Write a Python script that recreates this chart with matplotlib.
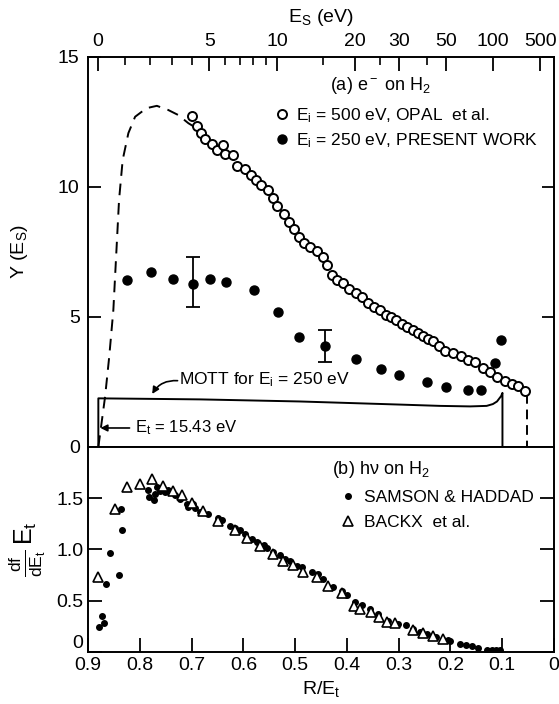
import numpy as np
import matplotlib
matplotlib.use('Agg')
import matplotlib.pyplot as plt

plt.rcParams['font.family'] = ['Liberation Sans', 'DejaVu Sans']
plt.rcParams['mathtext.fontset'] = 'custom'
plt.rcParams['mathtext.rm'] = 'Liberation Sans'
plt.rcParams['mathtext.it'] = 'Liberation Sans'
plt.rcParams['mathtext.sf'] = 'Liberation Sans'

# (a) e- on H2, open circles: Ei = 500 eV, Opal et al.
opal_r = [0.699, 0.690, 0.682, 0.674, 0.660, 0.650, 0.639, 0.636, 0.619, 0.612,
          0.596, 0.585, 0.576, 0.565, 0.553, 0.543, 0.534, 0.522, 0.512, 0.503,
          0.493, 0.483, 0.471, 0.458, 0.446, 0.438, 0.429, 0.419, 0.408, 0.396,
          0.382, 0.371, 0.359, 0.348, 0.336, 0.324, 0.315, 0.305, 0.294, 0.284,
          0.272, 0.263, 0.253, 0.243, 0.234, 0.222, 0.211, 0.195, 0.180, 0.166,
          0.153, 0.137, 0.124, 0.110, 0.095, 0.081, 0.070, 0.056]
opal_y = [12.71, 12.33, 12.07, 11.83, 11.65, 11.42, 11.62, 11.26, 11.22, 10.82,
          10.68, 10.46, 10.25, 10.08, 9.88, 9.58, 9.27, 8.95, 8.67, 8.37,
          8.08, 7.86, 7.70, 7.55, 7.30, 7.00, 6.62, 6.42, 6.30, 6.07,
          5.93, 5.76, 5.53, 5.40, 5.27, 5.08, 5.01, 4.88, 4.73, 4.63,
          4.50, 4.38, 4.25, 4.15, 4.08, 3.88, 3.71, 3.63, 3.48, 3.35,
          3.25, 3.04, 2.87, 2.69, 2.52, 2.42, 2.33, 2.17]

# dashed extrapolation of the Opal data
dash_r = [0.880, 0.867, 0.859, 0.851, 0.845, 0.840, 0.833, 0.822, 0.809, 0.787,
          0.767, 0.745, 0.726, 0.706, 0.691]
dash_y = [0.0, 1.93, 3.47, 5.27, 7.58, 9.50, 11.04, 12.07, 12.70, 13.03,
          13.12, 12.96, 12.77, 12.45, 12.27]
dash_end_r = [0.0525, 0.0525]
dash_end_y = [2.05, 0.0]

# filled circles: Ei = 250 eV, present work
pw_r = [0.825, 0.778, 0.736, 0.697, 0.664, 0.634, 0.579, 0.533, 0.493, 0.442,
        0.383, 0.334, 0.299, 0.245, 0.209, 0.167, 0.140, 0.114, 0.102]
pw_y = [6.42, 6.74, 6.45, 6.27, 6.46, 6.36, 6.04, 5.20, 4.22, 3.88,
        3.38, 3.01, 2.76, 2.50, 2.30, 2.19, 2.18, 3.22, 4.12]
err_r = [0.697, 0.442]
err_y = [6.35, 3.89]
err_dy = [0.95, 0.61]

# Mott curve for Ei = 250 eV
mott_r = [0.880, 0.880, 0.780, 0.684, 0.587, 0.491, 0.394, 0.297, 0.220, 0.162,
          0.130, 0.118, 0.110, 0.102, 0.0995, 0.0995]
mott_y = [0.0, 1.87, 1.85, 1.83, 1.79, 1.75, 1.69, 1.63, 1.58, 1.56,
          1.58, 1.65, 1.75, 1.96, 2.08, 0.0]

# (b) hv on H2: Samson & Haddad (dots), Backx et al. (triangles)
sh_r = [0.879, 0.870, 0.872, 0.865, 0.858, 0.840, 0.835, 0.837, 0.784, 0.782,
        0.773, 0.771, 0.767, 0.761, 0.751, 0.745, 0.732, 0.722, 0.709, 0.706,
        0.697, 0.693, 0.684, 0.668, 0.648, 0.642, 0.626, 0.616, 0.606, 0.597,
        0.584, 0.574, 0.561, 0.555, 0.542, 0.529, 0.520, 0.510, 0.497, 0.487,
        0.468, 0.455, 0.446, 0.426, 0.410, 0.400, 0.384, 0.371, 0.355, 0.339,
        0.320, 0.301, 0.286, 0.272, 0.259, 0.246, 0.227, 0.214, 0.204, 0.201,
        0.182, 0.169, 0.159, 0.146, 0.130, 0.120, 0.111, 0.104]
sh_y = [0.24, 0.28, 0.35, 0.66, 0.96, 0.75, 1.19, 1.39, 1.58, 1.51,
        1.48, 1.54, 1.61, 1.57, 1.56, 1.58, 1.53, 1.49, 1.44, 1.41,
        1.44, 1.40, 1.36, 1.35, 1.31, 1.29, 1.23, 1.21, 1.19, 1.15,
        1.10, 1.07, 1.04, 1.01, 0.97, 0.94, 0.91, 0.89, 0.84, 0.83,
        0.78, 0.76, 0.71, 0.63, 0.59, 0.55, 0.49, 0.46, 0.42, 0.37,
        0.30, 0.27, 0.26, 0.22, 0.19, 0.17, 0.14, 0.11, 0.11, 0.10,
        0.08, 0.07, 0.06, 0.04, 0.02, 0.02, 0.02, 0.02]
bx_r = [0.880, 0.848, 0.824, 0.800, 0.776, 0.756, 0.735, 0.719, 0.700, 0.677,
        0.648, 0.616, 0.592, 0.568, 0.543, 0.523, 0.504, 0.484, 0.458, 0.436,
        0.410, 0.386, 0.375, 0.354, 0.337, 0.323, 0.307, 0.272, 0.252, 0.233,
        0.214]
bx_y = [0.73, 1.39, 1.61, 1.64, 1.69, 1.62, 1.57, 1.53, 1.45, 1.37,
        1.28, 1.19, 1.11, 1.03, 0.95, 0.89, 0.85, 0.78, 0.73, 0.64,
        0.57, 0.45, 0.42, 0.39, 0.34, 0.29, 0.28, 0.21, 0.18, 0.15,
        0.12]

# top axis: secondary electron energy Es (eV), R/Et = 13.6 / (Es + 15.43)
es_major = [0, 5, 10, 20, 30, 50, 100, 500]
es_minor = [1, 2, 3, 4, 6, 7, 8, 9, 15, 25, 40]
RYD = 13.6
IP = 15.43

fig = plt.figure(figsize=(5.59, 7.04), dpi=100)
ax1 = fig.add_axes([0.1574, 0.3651, 0.8336, 0.5540])
ax2 = fig.add_axes([0.1574, 0.0743, 0.8336, 0.2908])

for ax in (ax1, ax2):
    ax.set_xlim(0.9, 0.0)
    for s in ax.spines.values():
        s.set_linewidth(1.4)

# ---- panel (a)
ax1.plot(dash_r, dash_y, 'k--', lw=1.4, dashes=(6, 4))
ax1.plot(dash_end_r, dash_end_y, 'k--', lw=1.4, dashes=(5, 3))
ax1.plot(opal_r, opal_y, 'o', mfc='white', mec='black', mew=1.4, ms=6.5,
         ls='none', label='E$_\\mathrm{i}$ = 500 eV, OPAL  et al.')
ax1.plot(pw_r, pw_y, 'o', color='black', ms=6.5, ls='none',
         label='E$_\\mathrm{i}$ = 250 eV, PRESENT WORK')
ax1.errorbar(err_r, err_y, yerr=err_dy, fmt='none', ecolor='black',
             elinewidth=1.3, capsize=5, capthick=1.3)
ax1.plot(mott_r, mott_y, 'k-', lw=1.4)

ax1.set_ylim(0, 15)
ax1.set_yticks([0, 5, 10, 15])
ax1.tick_params(axis='y', which='major', direction='in', length=9, width=1.3,
                left=True, right=True, labelsize=14, pad=6)
ax1.set_ylabel('Y (E$_\\mathrm{S}$)', fontsize=14, labelpad=20)

ax1.xaxis.tick_top()
ax1.xaxis.set_label_position('top')
ax1.set_xticks([RYD / (e + IP) for e in es_major])
ax1.set_xticklabels([str(e) for e in es_major])
ax1.set_xticks([RYD / (e + IP) for e in es_minor], minor=True)
ax1.tick_params(axis='x', which='major', direction='in', length=10, width=1.3,
                labelsize=14, pad=5)
ax1.tick_params(axis='x', which='minor', direction='in', length=6, width=1.2)
ax1.set_xlabel('E$_\\mathrm{S}$ (eV)', fontsize=14, labelpad=8)

leg1 = ax1.legend(loc='upper left', bbox_to_anchor=(0.405, 0.874), frameon=False,
                  fontsize=12.5, handlelength=0.6, handletextpad=0.5,
                  borderpad=0, borderaxespad=0, labelspacing=0.35)
ax1.text(0.627, 0.926, '(a) e$^-$ on H$_2$', transform=ax1.transAxes,
         ha='center', va='center', fontsize=13)

ax1.text(0.724, 2.58, 'MOTT for E$_\\mathrm{i}$ = 250 eV', fontsize=12.5,
         ha='left', va='center')
ax1.annotate('', xy=(0.776, 2.04), xytext=(0.727, 2.55),
             arrowprops=dict(arrowstyle='-|>', color='black', lw=1.2,
                             mutation_scale=10, shrinkA=0, shrinkB=0,
                             connectionstyle='arc3,rad=0.3'))
ax1.annotate('E$_\\mathrm{t}$ = 15.43 eV', xy=(0.876, 0.73),
             xytext=(0.809, 0.73), fontsize=12, ha='left', va='center',
             arrowprops=dict(arrowstyle='-|>', color='black', lw=1.2,
                             mutation_scale=10, shrinkA=2, shrinkB=0))

# ---- panel (b)
ax2.plot(sh_r, sh_y, 'o', color='black', ms=4, ls='none',
         label='SAMSON & HADDAD')
ax2.plot(bx_r, bx_y, '^', mfc='white', mec='black', mew=1.2, ms=7, ls='none',
         label='BACKX  et al.')
ax2.set_ylim(0, 2.0)
ax2.set_yticks([0, 0.5, 1.0, 1.5])
ax2.set_yticklabels(['0', '0.5', '1.0', '1.5'])
ax2.get_yticklabels()[0].set_verticalalignment('bottom')
ax2.set_xticks([0.9, 0.8, 0.7, 0.6, 0.5, 0.4, 0.3, 0.2, 0.1, 0.0])
ax2.set_xticklabels(['0.9', '0.8', '0.7', '0.6', '0.5', '0.4', '0.3', '0.2', '0.1', '0'])
ax2.tick_params(axis='both', which='major', direction='in', length=10, width=1.3,
                left=True, right=True, labelsize=14)
ax2.set_xlabel('R/E$_\\mathrm{t}$', fontsize=14, labelpad=4)
ax2.set_ylabel('$\\frac{\\mathrm{df}}{\\mathrm{dE_t}}\\,\\mathrm{E_t}$', fontsize=18,
               rotation=90, labelpad=6)

leg2 = ax2.legend(loc='upper left', bbox_to_anchor=(0.543, 0.79), frameon=False,
                  fontsize=12.5, handlelength=0.8, handletextpad=0.55,
                  borderpad=0, borderaxespad=0, labelspacing=0.55)
ax2.text(0.629, 0.888, '(b) h\u03bd on H$_2$', transform=ax2.transAxes,
         ha='center', va='center', fontsize=13)

plt.savefig('out.png', dpi=100)
plt.close(fig)
